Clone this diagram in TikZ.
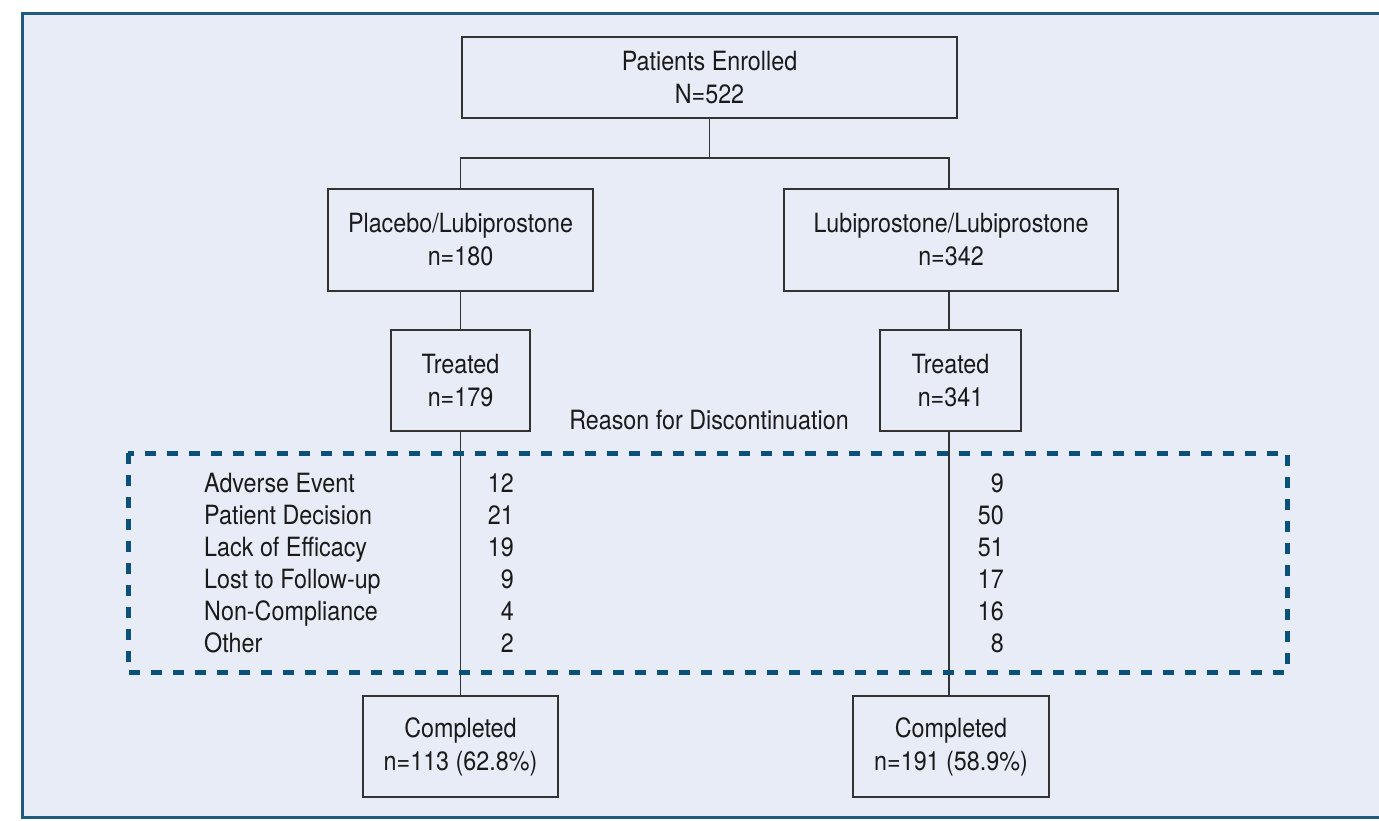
\documentclass[tikz,border=0pt]{standalone}
\usepackage{fontspec}
\setmainfont{TeX Gyre Heros}[FakeStretch=0.88]
\definecolor{bgblue}{HTML}{E8ECF7}
\definecolor{frameblue}{HTML}{1F5A80}
\definecolor{dashblue}{HTML}{0B5079}
\definecolor{linegray}{HTML}{333333}
\definecolor{txt}{HTML}{1A1A1A}
\tikzset{
  box/.style={draw=linegray, line width=1.4pt, align=center, inner sep=0pt, text=txt, font=\fontsize{26.5}{33}\selectfont},
  conn/.style={draw=linegray, line width=1.4pt},
  lbl/.style={anchor=base west, inner sep=0pt, text=txt, font=\fontsize{26.5}{33}\selectfont},
  num/.style={anchor=base east, inner sep=0pt, text=txt, font=\fontsize{26.5}{33}\selectfont},
  title/.style={inner sep=0pt, text=txt, font=\fontsize{26.5}{33}\selectfont},
  dashbox/.style={draw=dashblue, line width=5pt, dash pattern=on 11pt off 11pt}
}
\begin{document}
\begin{tikzpicture}[x=1pt,y=-1pt]
\useasboundingbox (0,0) rectangle (1379,820);
\fill[bgblue] (22,13) rectangle (1390,817);
\draw[frameblue, line width=3pt] (1390,13) -- (22,13) -- (22,817) -- (1390,817);

\node[box, minimum width=495pt, minimum height=81pt] (enr) at (709.5,77.5) {Patients Enrolled\\N=522};
\node[box, minimum width=265pt, minimum height=102pt] (plc) at (460.5,240) {Placebo/Lubiprostone\\n=180};
\node[box, minimum width=334pt, minimum height=102pt] (lub) at (951,240) {Lubiprostone/Lubiprostone\\n=342};
\node[box, minimum width=139pt, minimum height=101pt] (trl) at (460.5,380.5) {Treated\\n=179};
\node[box, minimum width=141pt, minimum height=101pt] (trr) at (950.5,380.5) {Treated\\n=341};
\node[box, minimum width=195pt, minimum height=101pt] (cpl) at (460.5,746.5) {Completed\\n=113 (62.8\%)};
\node[box, minimum width=196pt, minimum height=101pt] (cpr) at (951,746.5) {Completed\\n=191 (58.9\%)};

\coordinate (split) at (709.5,158);
\draw[conn] (enr.south) -- (split);
\draw[conn] (split) -| (plc.north);
\draw[conn] (split) -| ([xshift=-2pt]lub.north);
\draw[conn] (plc.south) -- (trl.north);
\draw[conn] ([xshift=-2pt]lub.south) -- ([xshift=-1.5pt]trr.north);
\draw[conn] (trl.south) -- (cpl.north);
\draw[conn] ([xshift=-1.5pt]trr.south) -- ([xshift=-1.5pt]trr.south |- cpr.north);

\node[title] (reason) at (709,420) {Reason for Discontinuation};

\draw[dashbox] (128,453) rectangle (1287,672);

\node[lbl] (l1) at (204,492) {Adverse Event};
\node[lbl] (l2) at (204,524) {Patient Decision};
\node[lbl] (l3) at (204,556) {Lack of Efficacy};
\node[lbl] (l4) at (204,588) {Lost to Follow-up};
\node[lbl] (l5) at (204,620) {Non-Compliance};
\node[lbl] (l6) at (204,652) {Other};

\node[num] (a1) at (514,492) {12};
\node[num] (a2) at (514,524) {21};
\node[num] (a3) at (514,556) {19};
\node[num] (a4) at (514,588) {9};
\node[num] (a5) at (514,620) {4};
\node[num] (a6) at (514,652) {2};

\node[num] (b1) at (1004,492) {9};
\node[num] (b2) at (1004,524) {50};
\node[num] (b3) at (1004,556) {51};
\node[num] (b4) at (1004,588) {17};
\node[num] (b5) at (1004,620) {16};
\node[num] (b6) at (1004,652) {8};
\end{tikzpicture}
\end{document}
